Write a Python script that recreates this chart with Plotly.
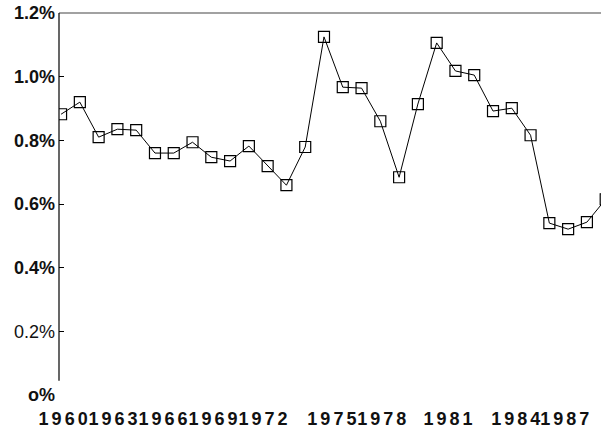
import plotly.graph_objects as go

years = list(range(1960, 1990))
values = [0.882, 0.920, 0.810, 0.835, 0.832, 0.760, 0.760, 0.794, 0.747, 0.735,
          0.782, 0.719, 0.659, 0.779, 1.125, 0.967, 0.964, 0.860, 0.684, 0.914,
          1.106, 1.018, 1.005, 0.892, 0.901, 0.816, 0.540, 0.521, 0.543, 0.615]

x_tick_labels = ["1960", "1963", "1966", "1969", "1972", "1975", "1978", "1981", "1984", "1987"]
x_tick_pos = [1960.11, 1962.77, 1965.43, 1968.09, 1970.75, 1974.42, 1977.08, 1980.60, 1984.21, 1986.82]

y_tick_vals = [0, 0.2, 0.4, 0.6, 0.8, 1.0, 1.2]
y_tick_labels = ["<b>o%</b>", "0.2%", "<b>0.4%</b>", "<b>0.6%</b>", "<b>0.8%</b>", "<b>1.0%</b>", "<b>1.2%</b>"]

SP = "\u2006"
x_text = ["<b>" + SP.join(t) + "</b>" for t in x_tick_labels]

fig = go.Figure()
fig.add_trace(go.Scatter(
    x=years, y=values, mode="lines+markers",
    line=dict(color="black", width=1),
    marker=dict(symbol="square-open", size=11, color="black", line=dict(width=1.2, color="black")),
    cliponaxis=True, showlegend=False,
))

fig.update_layout(
    width=601, height=429,
    margin=dict(l=59, r=0, t=13, b=34, pad=0),
    paper_bgcolor="white", plot_bgcolor="white",
    font=dict(family="Liberation Sans, Arial, sans-serif", color="black"),
    xaxis=dict(
        range=[1959.89, 1988.75], showgrid=False, zeroline=False, showline=False,
        tickmode="array", tickvals=x_tick_pos, ticktext=x_text, tickangle=0,
        ticks="", tickfont=dict(size=18, color="#111"), ticklabelstandoff=11,
        automargin=False,
    ),
    yaxis=dict(
        range=[0, 1.2], showgrid=False, zeroline=False, showline=False,
        tickmode="array", tickvals=y_tick_vals, ticktext=y_tick_labels,
        ticks="inside", ticklen=5, tickcolor="black", tickwidth=1,
        tickfont=dict(size=18, color="#111"), ticklabelstandoff=3,
        automargin=False,
    ),
    shapes=[
        dict(type="line", xref="paper", yref="paper", x0=0, x1=1, y0=1, y1=1,
             line=dict(color="#444", width=1.2)),
        dict(type="line", xref="paper", yref="y", x0=0, x1=0, y0=0.045, y1=1.2,
             line=dict(color="black", width=1.2)),
    ],
)

fig.write_html("out.html", config={"displayModeBar": False},
               post_script="document.body.style.margin='0';")
